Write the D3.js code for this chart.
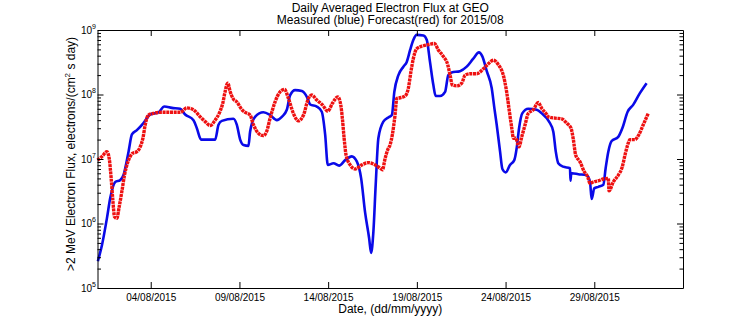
<!DOCTYPE html>
<html>
<head>
<meta charset="utf-8">
<script src="https://cdn.jsdelivr.net/npm/d3@7"></script>
<style>
  body { margin: 0; background: #fff; }
  svg { display: block; font-family: "Liberation Sans", Arial, Helvetica, sans-serif; }
</style>
</head>
<body>
<svg id="chart" width="756" height="324"></svg>
<script>
// Measured daily-averaged >2 MeV electron flux (day of August 2015, fractional)
const measuredDay = [1.02, 1.25, 1.53, 1.72, 2.00, 2.28, 2.46, 2.75, 2.94, 3.22, 3.59, 3.97, 4.44, 4.77, 5.19, 5.66, 5.94, 6.41, 6.60, 6.84,
  7.25, 7.63, 7.82, 8.01, 8.66, 8.85, 9.04, 9.23, 9.51, 9.60, 9.88, 10.35, 10.73, 11.11, 11.39, 11.67, 11.86, 12.14, 12.52, 12.80,
  12.99, 13.36, 13.64, 13.83, 13.98, 14.30, 14.62, 14.96, 15.33, 15.62, 15.86, 16.08, 16.31, 16.42, 16.55, 16.68, 16.83, 17.11, 17.39, 17.59,
  17.73, 17.96, 18.24, 18.43, 18.62, 18.80, 18.99, 19.37, 19.56, 19.74, 19.93, 20.06, 20.31, 20.59, 20.77, 20.96, 21.43, 21.81, 22.18, 22.50,
  22.69, 22.94, 23.22, 23.37, 23.50, 23.69, 23.82, 24.01, 24.25, 24.49, 24.63, 24.76, 24.94, 25.28, 25.75, 26.04, 26.45, 26.69, 26.83, 26.97,
  27.25, 27.63, 27.66, 27.70, 27.76, 28.10, 28.57, 28.76, 28.85, 29.00, 29.23, 29.51, 29.64, 29.79, 29.98, 30.35, 30.58, 30.88, 31.19, 31.57, 31.95];
const measuredFlux = [2.6e5, 4.6e5, 1.2e6, 2.5e6, 4.4e6, 4.7e6, 5.6e6, 1.3e7, 2.4e7, 2.8e7, 3.6e7, 4.9e7, 5.3e7, 6.5e7, 6.2e7, 6.0e7, 4.9e7, 4.0e7, 3.0e7, 2.0e7,
  2.0e7, 2.0e7, 3.4e7, 3.9e7, 4.2e7, 3.4e7, 2.0e7, 1.65e7, 1.6e7, 2.65e7, 4.5e7, 5.3e7, 4.8e7, 4.0e7, 4.5e7, 5.8e7, 9.8e7, 1.17e8, 1.13e8, 9.2e7,
  7.0e7, 6.5e7, 5.4e7, 2.4e7, 8.1e6, 8.6e6, 7.9e6, 9.6e6, 1.1e7, 9.1e6, 5.0e6, 1.5e6, 5.9e5, 3.5e5, 7.5e5, 4.0e6, 2.1e7, 3.8e7, 4.4e7, 4.8e7,
  1.1e8, 2.0e8, 2.7e8, 3.2e8, 4.9e8, 7.0e8, 8.4e8, 8.2e8, 7.0e8, 3.2e8, 1.4e8, 9.5e7, 9.5e7, 1.1e8, 2.0e8, 2.2e8, 2.3e8, 2.7e8, 3.6e8, 4.5e8,
  3.9e8, 2.3e8, 1.25e8, 6.1e7, 3.4e7, 1.3e7, 7.0e6, 6.2e6, 8.1e6, 9.6e6, 1.5e7, 3.0e7, 5.1e7, 6.0e7, 5.8e7, 5.1e7, 3.8e7, 2.65e7, 1.3e7, 8.6e6,
  7.6e6, 7.2e6, 4.6e6, 6.0e6, 6.0e6, 5.8e6, 5.6e6, 4.4e6, 2.4e6, 3.5e6, 3.7e6, 4.0e6, 7.2e6, 1.3e7, 1.9e7, 2.2e7, 3.0e7, 5.4e7, 6.9e7, 1.05e8, 1.5e8];

// Forecast flux (day of August 2015, fractional)
const forecastDay = [1.00, 1.25, 1.53, 1.66, 1.77, 1.87, 1.96, 2.09, 2.22, 2.37, 2.52, 2.66, 2.84, 2.97, 3.22, 3.41, 3.56, 3.69, 3.87, 4.15,
  4.63, 5.19, 5.66, 6.04, 6.41, 6.79, 7.07, 7.35, 7.63, 7.91, 8.06, 8.19, 8.34, 8.48, 8.66, 8.85, 9.14, 9.32, 9.60, 9.79,
  10.07, 10.35, 10.54, 10.73, 11.01, 11.29, 11.54, 11.76, 12.04, 12.32, 12.61, 12.89, 13.08, 13.36, 13.68, 13.98, 14.24, 14.54, 14.71, 14.80,
  14.90, 15.01, 15.24, 15.52, 15.90, 16.27, 16.65, 16.93, 17.06, 17.21, 17.36, 17.49, 17.62, 17.77, 17.87, 18.05, 18.34, 18.52, 18.67, 18.80,
  18.99, 19.37, 19.74, 19.99, 20.21, 20.49, 20.74, 20.87, 21.00, 21.25, 21.53, 21.72, 22.00, 22.37, 22.75, 23.03, 23.31, 23.59, 23.87, 24.06,
  24.19, 24.35, 24.44, 24.57, 24.76, 24.91, 25.10, 25.28, 25.56, 25.84, 26.04, 26.32, 26.41, 26.79, 27.16, 27.44, 27.69, 27.82, 27.95, 28.19,
  28.43, 28.63, 28.76, 28.94, 29.23, 29.51, 29.79, 29.83, 30.07, 30.35, 30.58, 30.73, 30.88, 31.01, 31.29, 31.52, 31.76, 32.04];
const forecastFlux = [9.6e6, 1.09e7, 1.3e7, 1.02e7, 5.0e6, 2.2e6, 1.27e6, 1.2e6, 1.8e6, 3.1e6, 5.6e6, 8.1e6, 1.09e7, 1.22e7, 1.3e7, 1.55e7, 2.1e7, 3.4e7, 4.8e7, 5.1e7,
  5.3e7, 5.3e7, 5.3e7, 6.2e7, 5.8e7, 4.5e7, 3.8e7, 3.3e7, 4.0e7, 5.5e7, 7.3e7, 1.1e8, 1.5e8, 1.1e8, 8.5e7, 7.7e7, 5.8e7, 5.3e7, 4.8e7, 3.4e7,
  2.5e7, 2.3e7, 2.7e7, 4.3e7, 7.7e7, 1.1e8, 1.2e8, 8.7e7, 5.1e7, 3.9e7, 4.8e7, 8.7e7, 9.8e7, 8.2e7, 6.9e7, 5.5e7, 7.3e7, 9.2e7, 6.9e7, 4.3e7,
  2.1e7, 1.15e7, 8.1e6, 7.0e6, 8.1e6, 8.8e6, 8.1e6, 7.2e6, 6.8e6, 1.02e7, 1.4e7, 1.65e7, 2.4e7, 4.8e7, 8.7e7, 8.9e7, 9.5e7, 1.25e8, 2.3e8, 3.6e8,
  5.1e8, 5.7e8, 6.0e8, 6.2e8, 4.9e8, 3.9e8, 2.9e8, 2.0e8, 1.4e8, 1.36e8, 1.5e8, 2.0e8, 2.1e8, 2.1e8, 2.5e8, 3.0e8, 3.4e8, 2.9e8, 2.0e8, 1.1e8,
  6.1e7, 3.0e7, 2.1e7, 2.1e7, 1.55e7, 2.2e7, 3.4e7, 5.1e7, 5.8e7, 7.5e7, 6.1e7, 4.9e7, 4.5e7, 4.3e7, 4.2e7, 3.6e7, 3.0e7, 2.0e7, 1.15e7, 9.1e6,
  6.4e6, 5.3e6, 4.2e6, 4.4e6, 4.6e6, 4.9e6, 5.0e6, 3.2e6, 4.4e6, 5.6e6, 7.6e6, 1.15e7, 1.65e7, 2.0e7, 2.0e7, 2.4e7, 3.4e7, 5.1e7];

// Axis ticks
const tickDays = [4, 9, 14, 19, 24, 29];          // labelled as dd/mm/yyyy
const decadeExponents = [5, 6, 7, 8, 9];
const titleLines = ["Daily Averaged Electron Flux at GEO", "Measured (blue) Forecast(red) for 2015/08"];

const DAY = 864e5;
const dayToDate = d => new Date(Date.UTC(2015, 7, 1) + (d - 1) * DAY);

const margin = { left: 97.5, right: 683, top: 30, bottom: 288 };
const svg = d3.select("#chart");
svg.append("rect").attr("width", 756).attr("height", 324).attr("fill", "#fff");

const x = d3.scaleUtc()
  .domain([dayToDate(1), dayToDate(34)])
  .range([margin.left, margin.right]);
const y = d3.scaleLog()
  .domain([1e5, 1e9])
  .range([margin.bottom, margin.top]);

const fmt = d3.utcFormat("%d/%m/%Y");
const majorX = tickDays.map(dayToDate);
const majorY = decadeExponents.map(e => Math.pow(10, e));
const minorY = [];
decadeExponents.slice(0, -1).forEach(e => { for (let m = 2; m <= 9; m++) minorY.push(m * Math.pow(10, e)); });

// Data series
const measured = measuredDay.map((d, i) => ({ t: dayToDate(d), v: measuredFlux[i] }));
const forecast = forecastDay.map((d, i) => ({ t: dayToDate(d), v: forecastFlux[i] }));

const line = d3.line().x(d => x(d.t)).y(d => y(d.v)).curve(d3.curveMonotoneX);

const plot = svg.append("g");
plot.append("path")
  .datum(measured)
  .attr("d", line)
  .attr("fill", "none")
  .attr("stroke", "#0a0ae8")
  .attr("stroke-width", 2.6)
  .attr("stroke-linejoin", "round");

// forecast drawn as a dense dotted trace
plot.append("path")
  .datum(forecast)
  .attr("d", line)
  .attr("fill", "none")
  .attr("stroke", "#ee1111")
  .attr("stroke-width", 3.4)
  .attr("stroke-dasharray", "3,0.7");

// Axes (ticks point into the plot box)
const axisStyle = g => {
  g.selectAll("path.domain").attr("stroke", "#000").attr("stroke-width", 1);
  g.selectAll(".tick line").attr("stroke", "#000").attr("stroke-width", 1);
  g.selectAll(".tick text").attr("fill", "#000").attr("font-family", null);
};

svg.append("g")
  .attr("transform", `translate(0,${margin.bottom})`)
  .call(d3.axisBottom(x).tickValues(majorX).tickFormat(fmt).tickSizeInner(-6).tickSizeOuter(0).tickPadding(6))
  .call(axisStyle)
  .call(g => g.selectAll(".tick text").attr("font-size", 10));

svg.append("g")
  .attr("transform", `translate(0,${margin.top})`)
  .call(d3.axisTop(x).tickValues(majorX).tickFormat("").tickSizeInner(-6).tickSizeOuter(0))
  .call(axisStyle);

[[d3.axisLeft, margin.left], [d3.axisRight, margin.right]].forEach(([axisFn, pos]) => {
  svg.append("g")
    .attr("transform", `translate(${pos},0)`)
    .call(axisFn(y).tickValues(majorY).tickFormat("").tickSizeInner(-6).tickSizeOuter(0))
    .call(axisStyle);
  svg.append("g")
    .attr("transform", `translate(${pos},0)`)
    .call(axisFn(y).tickValues(minorY).tickFormat("").tickSizeInner(-3.5).tickSizeOuter(0))
    .call(axisStyle)
    .call(g => g.select("path.domain").remove());
});

// Decade labels as 10^n, exponent ending at the axis line
const yLabels = svg.append("g").attr("font-size", 10).attr("fill", "#000");
decadeExponents.forEach(e => {
  const t = yLabels.append("text")
    .attr("x", margin.left - 1.5)
    .attr("y", y(Math.pow(10, e)) + 3.5)
    .attr("text-anchor", "end");
  t.append("tspan").text("10");
  t.append("tspan").attr("dy", -5).attr("font-size", 7).text(String(e));
});

// Title
svg.append("g").selectAll("text").data(titleLines).join("text")
  .attr("x", (margin.left + margin.right) / 2)
  .attr("y", (d, i) => 11.5 + i * 12.8)
  .attr("text-anchor", "middle")
  .attr("font-size", 12)
  .text(d => d);

// Axis titles
svg.append("text")
  .attr("x", (margin.left + margin.right) / 2)
  .attr("y", 313)
  .attr("text-anchor", "middle")
  .attr("font-size", 12)
  .text("Date, (dd/mm/yyyy)");

const yTitle = svg.append("text")
  .attr("transform", "translate(75,154) rotate(-90)")
  .attr("text-anchor", "middle")
  .attr("font-size", 12);
yTitle.append("tspan").text(">2 MeV Electron Flux, electrons/(cm");
yTitle.append("tspan").attr("dy", -5).attr("font-size", 8).text("2");
yTitle.append("tspan").attr("dy", 5).text(" s day)");
</script>
</body>
</html>
